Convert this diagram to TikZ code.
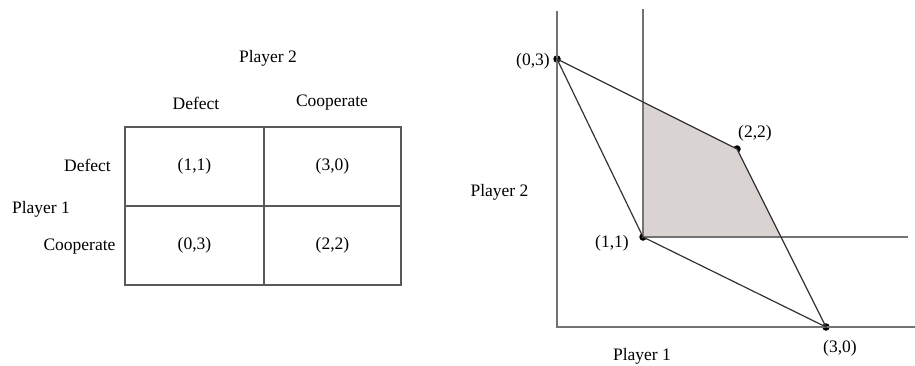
\documentclass[tikz,border=0pt]{standalone}
\usepackage{fontspec}
\setmainfont{Liberation Serif}
\begin{document}
\begin{tikzpicture}[x=1pt,y=-1pt,
  lbl/.style={inner sep=0pt,text=black,font=\fontsize{17.5}{20}\selectfont},
  cell/.style={draw=black!65,line width=1.2pt,minimum width=139pt,minimum height=79pt,inner sep=0pt,text=black,font=\fontsize{17.5}{20}\selectfont},
  axis/.style={draw=black!55,line width=1.5pt},
  edge/.style={draw=black!80,line width=1.2pt},
  dot/.style={circle,fill=black,inner sep=0pt,minimum size=7.5pt}]
\useasboundingbox (0,0) rectangle (915,365);
% ---- payoff table ----
\node[lbl] (p2t) at (268,58) {Player 2};
\node[lbl] (cdef) at (196,103) {Defect};
\node[lbl] (ccoop) at (332,103) {Cooperate};
\node[lbl] (rdef) at (87.5,165) {Defect};
\node[lbl] (p1t) at (41,209) {Player 1};
\node[lbl] (rcoop) at (79.5,247) {Cooperate};
\node[cell] (c11) at (194.5,166.5) {(1,1)};
\node[cell,minimum width=137pt] (c30) at (332.5,166.5) {(3,0)};
\node[cell] (c03) at (194.5,245.5) {(0,3)};
\node[cell,minimum width=137pt] (c22) at (332.5,245.5) {(2,2)};
% ---- graph ----
\coordinate (O) at (557,327);
\coordinate (ytop) at (557,11);
\coordinate (xend) at (915,327);
\coordinate (vtop) at (643,9);
\coordinate (hend) at (908,237);
\node[dot] (a) at (557,59) {};
\node[dot] (b) at (737,149) {};
\node[dot] (c) at (643,237) {};
\node[dot] (d) at (826,327) {};
\begin{scope}
  \clip (643,0) rectangle (915,237);
  \fill[fill={rgb,255:red,217;green,211;blue,209}] (a.center) -- (b.center) -- (d.center) -- (c.center) -- cycle;
\end{scope}
\draw[axis] (ytop) -- (O) -- (xend);
\draw[axis] (vtop) -- (c.center) -- (hend);
\draw[edge] (a.center) -- (b.center) -- (d.center) -- (c.center) -- cycle;
\node[lbl] (la) at (533,61) {(0,3)};
\node[lbl] (lb) at (755,133) {(2,2)};
\node[lbl] (lc) at (612,243) {(1,1)};
\node[lbl] (ld) at (840,348) {(3,0)};
\node[lbl] (p1g) at (642,356) {Player 1};
\node[lbl] (p2g) at (499.5,192) {Player 2};
\end{tikzpicture}
\end{document}
